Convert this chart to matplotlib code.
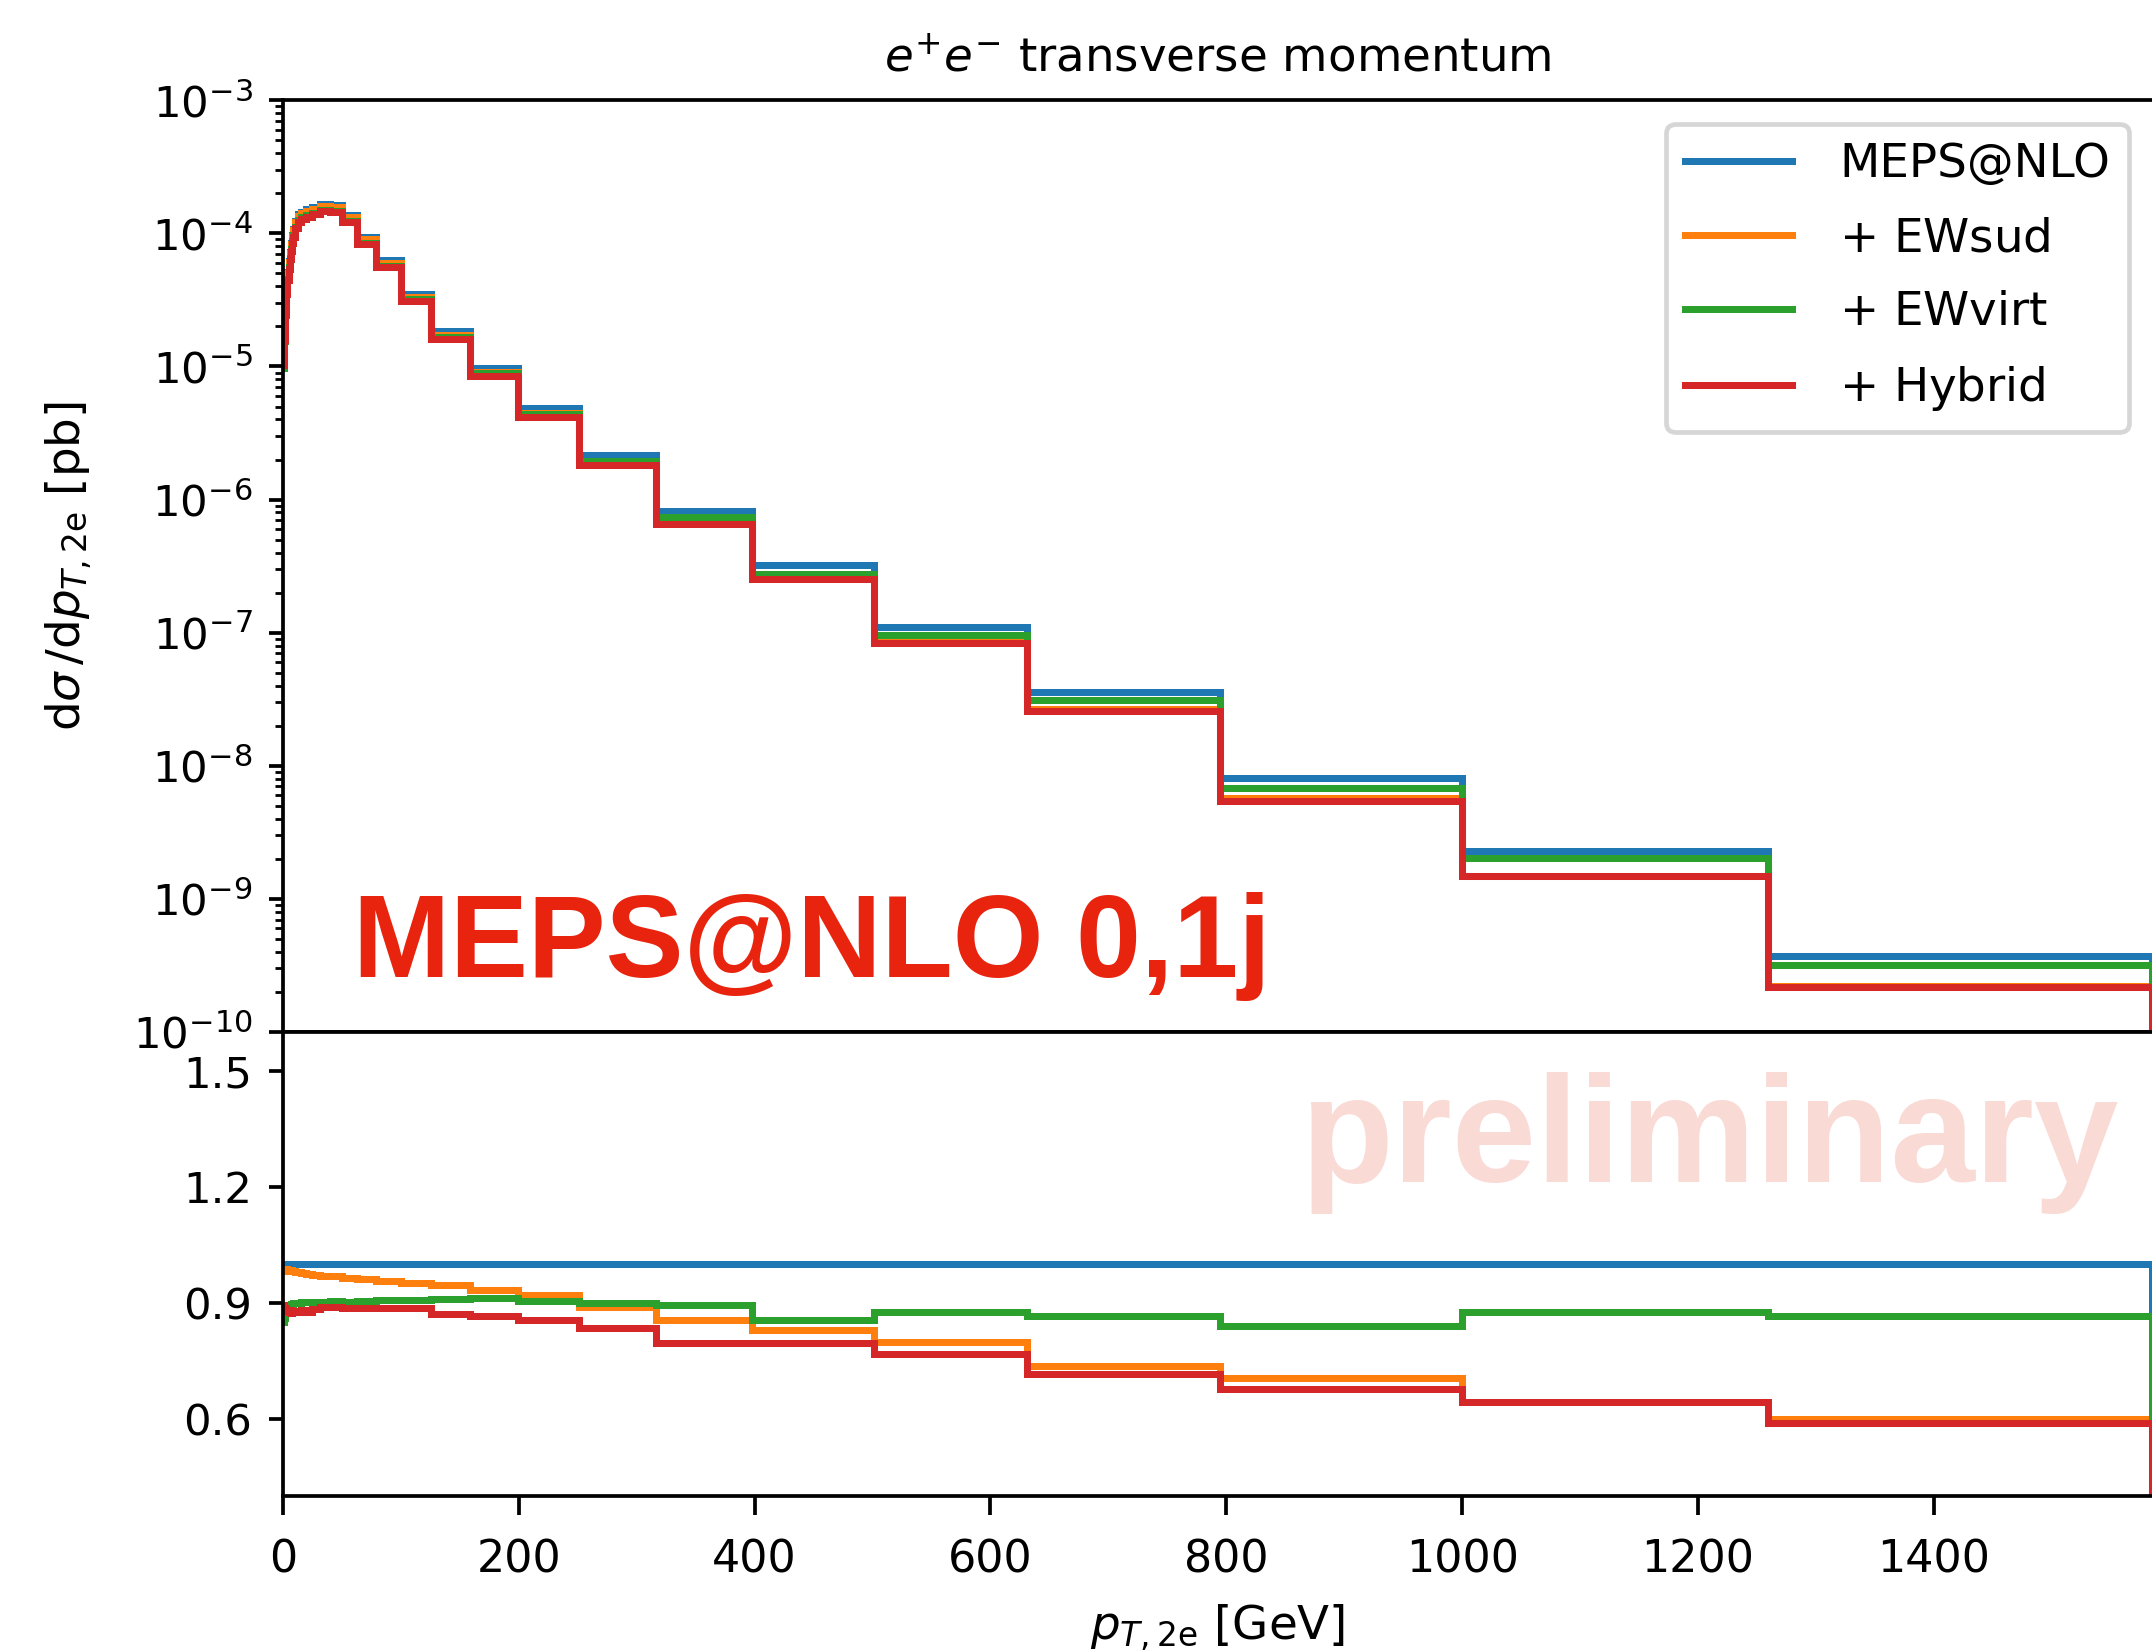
import matplotlib.pyplot as plt
import numpy as np

DPI = 336.25

# bin edges of the pT histogram [GeV]
edges = [0, 1, 2, 3, 4, 5, 6, 7, 8, 9, 10,
         12.6, 15.8, 20.0, 25.1, 31.6, 39.8, 50.1, 63.1, 79.4, 100.0,
         125.9, 158.5, 199.5, 251.2, 316.2, 398.1, 501.2, 631.0, 794.3,
         1000.0, 1258.9, 1584.9]

# MEPS@NLO dsigma/dpT [pb/GeV]
meps = [1.15e-5, 1.8e-5, 2.8e-5, 4.0e-5, 5.1e-5, 6.2e-5, 7.3e-5, 8.5e-5, 9.7e-5, 1.08e-4,
        1.24e-4, 1.39e-4, 1.46e-4, 1.52e-4, 1.57e-4, 1.66e-4, 1.64e-4, 1.38e-4, 9.4e-5, 6.3e-5,
        3.52e-5, 1.84e-5, 9.8e-6, 4.9e-6, 2.18e-6, 8.2e-7, 3.2e-7, 1.1e-7, 3.6e-8, 8.1e-9,
        2.3e-9, 3.7e-10]

# ratios to MEPS@NLO
r_sud = [0.985, 0.988, 0.984, 0.986, 0.983, 0.985, 0.982, 0.984, 0.981, 0.983,
         0.980, 0.979, 0.976, 0.974, 0.972, 0.970, 0.968, 0.965, 0.961, 0.957,
         0.952, 0.945, 0.933, 0.920, 0.890, 0.856, 0.830, 0.798, 0.736, 0.706,
         0.643, 0.600]
r_virt = [0.850, 0.860, 0.875, 0.885, 0.890, 0.895, 0.893, 0.897, 0.896, 0.899,
          0.900, 0.899, 0.902, 0.901, 0.903, 0.902, 0.904, 0.903, 0.905, 0.906,
          0.907, 0.909, 0.911, 0.904, 0.899, 0.895, 0.856, 0.876, 0.866, 0.840,
          0.877, 0.866]
r_hyb = [0.895, 0.880, 0.885, 0.878, 0.882, 0.876, 0.880, 0.874, 0.879, 0.877,
         0.879, 0.876, 0.881, 0.877, 0.883, 0.888, 0.889, 0.887, 0.886, 0.887,
         0.885, 0.872, 0.865, 0.856, 0.835, 0.797, 0.796, 0.767, 0.715, 0.676,
         0.642, 0.590]

labels = ['MEPS@NLO', '$+$ EWsud', '$+$ EWvirt', '$+$ Hybrid']
colors = ['tab:blue', 'tab:orange', 'tab:green', 'tab:red']

base = np.array(meps)
ratios = [np.ones(len(meps)), np.array(r_sud), np.array(r_virt), np.array(r_hyb)]

fig = plt.figure(figsize=(2152 / DPI, 1652 / DPI), dpi=DPI)
ax1 = fig.add_axes([0.1314, 0.3753, 0.8686, 0.5640])
ax2 = fig.add_axes([0.1314, 0.0944, 0.8686, 0.2809], sharex=ax1)

for r, c, lab in zip(ratios, colors, labels):
    vals = base * r
    ax1.stairs(vals, edges, color=c, lw=1.5, baseline=None, label=lab)
    ax2.stairs(r, edges, color=c, lw=1.5, baseline=None)
    # closing drop at the last bin edge
    ax1.plot([edges[-1], edges[-1]], [vals[-1], 1e-12], color=c, lw=1.5)
    ax2.plot([edges[-1], edges[-1]], [r[-1], 0], color=c, lw=1.5)

ax1.set_yscale('log')
ax1.set_ylim(1e-10, 1e-3)
ax1.set_xlim(0, edges[-1])
ax2.set_ylim(0.4, 1.6)
ax2.set_yticks([0.6, 0.9, 1.2, 1.5])
ax2.set_xticks([0, 200, 400, 600, 800, 1000, 1200, 1400])

for ax in (ax1, ax2):
    ax.spines['right'].set_visible(False)
    ax.tick_params(which='major', length=3, labelsize=9.3)
    ax.tick_params(which='minor', length=1.7)
ax1.tick_params(axis='x', which='both', bottom=False, labelbottom=False)
ax2.tick_params(axis='x', which='major', length=4, pad=5, labelsize=9.5)

ax1.set_title(r'$e^{+}e^{-}$ transverse momentum', fontsize=10, pad=6)
ax1.set_ylabel(r'$\mathrm{d}\sigma\,/\mathrm{d}p_{T,\mathrm{2e}}$ [pb]', fontsize=10)
ax1.yaxis.set_label_coords(-0.101, 0.5)
ax2.set_xlabel(r'$p_{T,\mathrm{2e}}$ [GeV]', fontsize=10, labelpad=4.5)

ax1.legend(loc='upper right', fontsize=10, handlelength=2.3, handletextpad=1.0,
           labelspacing=0.62, borderaxespad=0.5)

fig.text(0.164, 0.4086, 'MEPS@NLO 0,1j', fontsize=25, fontweight='bold',
         color='#E8230E', family='Liberation Sans', va='baseline')
fig.text(0.6046, 0.2847, 'preliminary', fontsize=32.5, fontweight='bold',
         color='#F9DAD5', family='Liberation Sans', va='baseline')

fig.savefig('out.png', dpi=DPI)
